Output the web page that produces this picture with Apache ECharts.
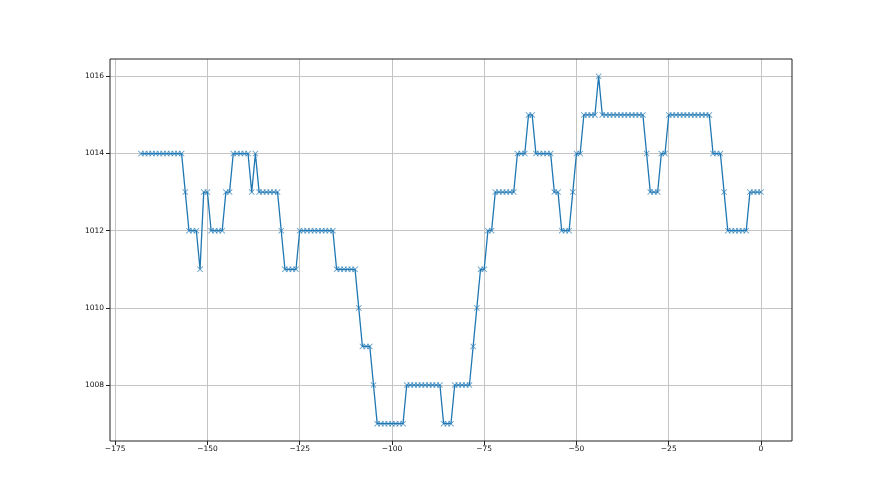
<!DOCTYPE html>
<html>
<head>
<meta charset="utf-8">
<script src="https://cdn.jsdelivr.net/npm/echarts@6/dist/echarts.min.js"></script>
<style>
  html, body { margin: 0; padding: 0; background: #fff; }
  #chart { width: 880px; height: 495px; }
</style>
</head>
<body>
<div id="chart"></div>
<script>
// hours before now
const hours = [
  -168, -167, -166, -165, -164, -163, -162, -161, -160, -159,
  -158, -157, -156, -155, -154, -153, -152, -151, -150, -149,
  -148, -147, -146, -145, -144, -143, -142, -141, -140, -139,
  -138, -137, -136, -135, -134, -133, -132, -131, -130, -129,
  -128, -127, -126, -125, -124, -123, -122, -121, -120, -119,
  -118, -117, -116, -115, -114, -113, -112, -111, -110, -109,
  -108, -107, -106, -105, -104, -103, -102, -101, -100, -99,
  -98, -97, -96, -95, -94, -93, -92, -91, -90, -89,
  -88, -87, -86, -85, -84, -83, -82, -81, -80, -79,
  -78, -77, -76, -75, -74, -73, -72, -71, -70, -69,
  -68, -67, -66, -65, -64, -63, -62, -61, -60, -59,
  -58, -57, -56, -55, -54, -53, -52, -51, -50, -49,
  -48, -47, -46, -45, -44, -43, -42, -41, -40, -39,
  -38, -37, -36, -35, -34, -33, -32, -31, -30, -29,
  -28, -27, -26, -25, -24, -23, -22, -21, -20, -19,
  -18, -17, -16, -15, -14, -13, -12, -11, -10, -9,
  -8, -7, -6, -5, -4, -3, -2, -1, 0
]

// pressure readings
const pressure = [
  1014, 1014, 1014, 1014, 1014, 1014, 1014, 1014, 1014, 1014,
  1014, 1014, 1013, 1012, 1012, 1012, 1011, 1013, 1013, 1012,
  1012, 1012, 1012, 1013, 1013, 1014, 1014, 1014, 1014, 1014,
  1013, 1014, 1013, 1013, 1013, 1013, 1013, 1013, 1012, 1011,
  1011, 1011, 1011, 1012, 1012, 1012, 1012, 1012, 1012, 1012,
  1012, 1012, 1012, 1011, 1011, 1011, 1011, 1011, 1011, 1010,
  1009, 1009, 1009, 1008, 1007, 1007, 1007, 1007, 1007, 1007,
  1007, 1007, 1008, 1008, 1008, 1008, 1008, 1008, 1008, 1008,
  1008, 1008, 1007, 1007, 1007, 1008, 1008, 1008, 1008, 1008,
  1009, 1010, 1011, 1011, 1012, 1012, 1013, 1013, 1013, 1013,
  1013, 1013, 1014, 1014, 1014, 1015, 1015, 1014, 1014, 1014,
  1014, 1014, 1013, 1013, 1012, 1012, 1012, 1013, 1014, 1014,
  1015, 1015, 1015, 1015, 1016, 1015, 1015, 1015, 1015, 1015,
  1015, 1015, 1015, 1015, 1015, 1015, 1015, 1014, 1013, 1013,
  1013, 1014, 1014, 1015, 1015, 1015, 1015, 1015, 1015, 1015,
  1015, 1015, 1015, 1015, 1015, 1014, 1014, 1014, 1013, 1012,
  1012, 1012, 1012, 1012, 1012, 1013, 1013, 1013, 1013
]

const xTicks = [-175, -150, -125, -100, -75, -50, -25, 0]
const yTicks = [1008, 1010, 1012, 1014, 1016]

const blue = '#1f77b4'
const gridColor = '#c4c4c4'
const font = 'DejaVu Sans'
const xMark = 'path://M1,0L5,4L9,0L10,1L6,5L10,9L9,10L5,6L1,10L0,9L4,5L0,1Z'

function minus(v) {
  return v < 0 ? '\u2212' + (-v) : String(v)
}

const chart = echarts.init(document.getElementById('chart'))
chart.setOption({
  backgroundColor: '#fff',
  animation: false,
  grid: [
    // data area with frame
    { left: 110, right: 88, top: 59, bottom: 54, show: true, borderColor: '#222', borderWidth: 1, backgroundColor: 'transparent', z: 3 },
    // x ticks, placed so that -175..0 lands where the data axis has them
    { left: 115.17, right: 119, top: 59, bottom: 54 },
    // y ticks
    { left: 110, right: 88, top: 76.36, bottom: 109.95 }
  ],
  xAxis: [
    { type: 'value', gridIndex: 0, min: -176.4, max: 8.4, show: false },
    {
      type: 'value', gridIndex: 1, min: xTicks[0], max: xTicks[xTicks.length - 1], interval: 25,
      position: 'bottom',
      axisLine: { show: false },
      axisTick: { show: true, length: 4, lineStyle: { color: '#222' } },
      axisLabel: { margin: 4, fontSize: 7.5, fontFamily: font, color: '#111', formatter: minus },
      splitLine: { show: true, lineStyle: { color: gridColor, width: 1 } }
    },
    { type: 'value', gridIndex: 2, min: 0, max: 1, show: false }
  ],
  yAxis: [
    { type: 'value', gridIndex: 0, min: 1006.55, max: 1016.45, show: false },
    { type: 'value', gridIndex: 1, min: 0, max: 1, show: false },
    {
      type: 'value', gridIndex: 2, min: yTicks[0], max: yTicks[yTicks.length - 1], interval: 2,
      position: 'left',
      axisLine: { show: false },
      axisTick: { show: true, length: 4, lineStyle: { color: '#222' } },
      axisLabel: { margin: 6, fontSize: 7.5, fontFamily: font, color: '#111', formatter: v => String(v) },
      splitLine: { show: true, lineStyle: { color: gridColor, width: 1 } }
    }
  ],
  series: [{
    type: 'line',
    xAxisIndex: 0,
    yAxisIndex: 0,
    data: hours.map((h, i) => [h, pressure[i]]),
    symbol: xMark,
    symbolSize: 6,
    showAllSymbol: true,
    z: 5,
    itemStyle: { color: blue, opacity: 0.7 },
    lineStyle: { color: blue, width: 1.3 }
  }]
})
</script>
</body>
</html>
